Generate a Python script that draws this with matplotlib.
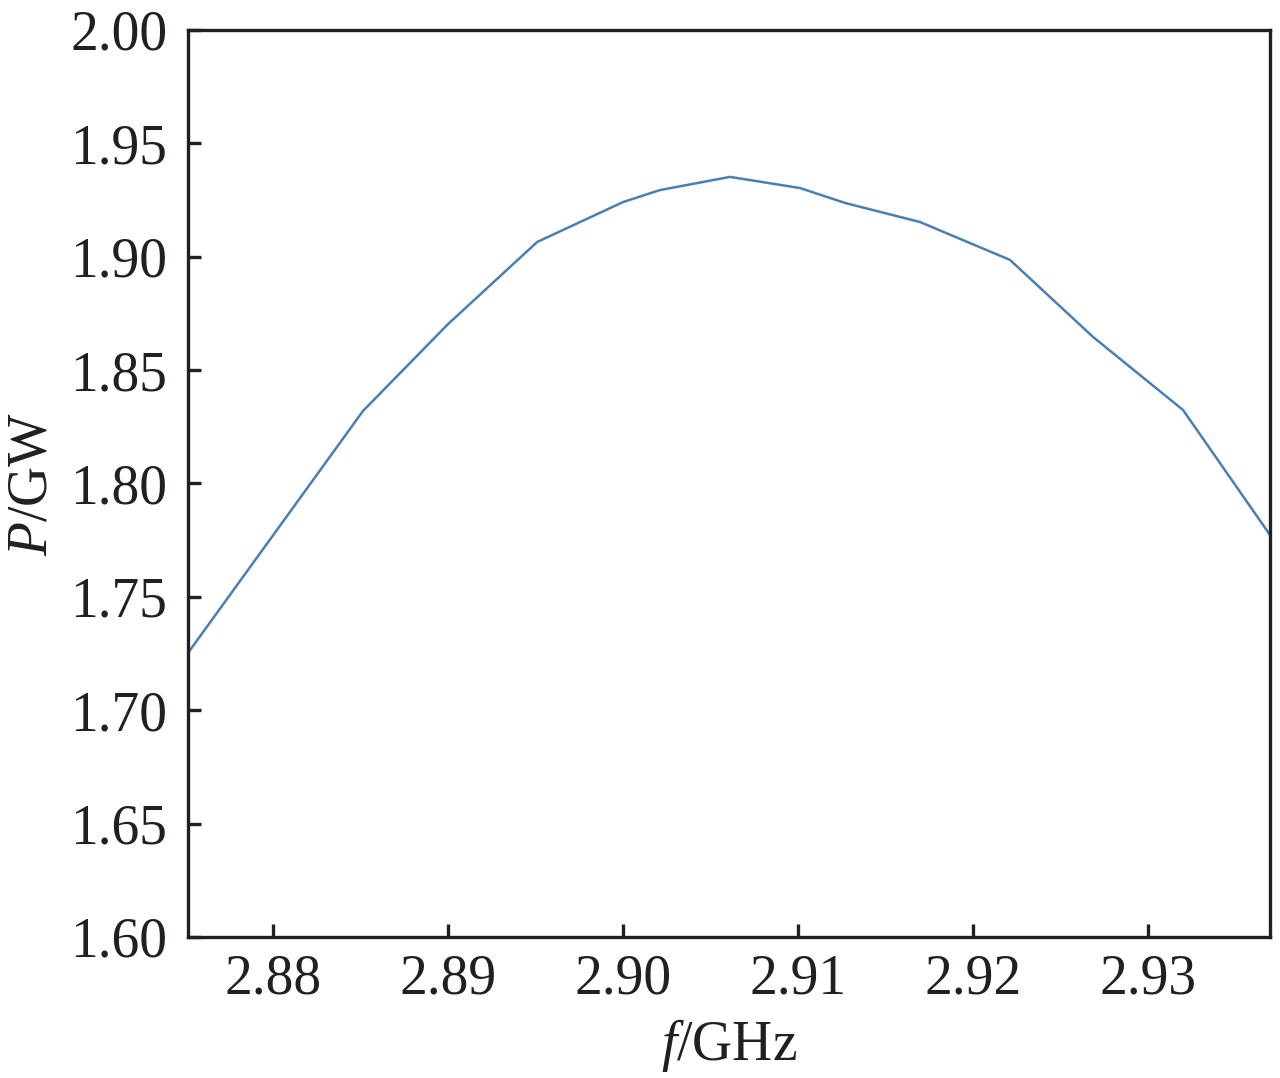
import matplotlib
matplotlib.use("Agg")
import matplotlib.pyplot as plt

freq = [2.87514, 2.88514, 2.89000, 2.89509, 2.90000, 2.90211, 2.90611, 2.91011,
        2.91269, 2.91697, 2.92211, 2.92686, 2.93200, 2.93697]
power = [1.7253, 1.8320, 1.8703, 1.9065, 1.9241, 1.9294, 1.9352, 1.9303,
         1.9237, 1.9153, 1.8986, 1.8646, 1.8324, 1.7773]
xticks = [2.88, 2.89, 2.90, 2.91, 2.92, 2.93]
yticks = [1.60, 1.65, 1.70, 1.75, 1.80, 1.85, 1.90, 1.95, 2.00]

plt.rcParams['font.family'] = ['Liberation Serif', 'DejaVu Serif']
plt.rcParams['mathtext.fontset'] = 'custom'
plt.rcParams['mathtext.rm'] = 'Liberation Serif'
plt.rcParams['mathtext.it'] = 'Liberation Serif:italic'

fig = plt.figure(figsize=(12.8, 10.78), dpi=100)
ax = fig.add_axes([0.1469, 0.1308, 0.8453, 0.8414])
ax.plot(freq, power, color='#4a7fb5', lw=1.8)
ax.set_xlim(2.87514, 2.93697)
ax.set_ylim(1.60, 2.00)
ax.set_xticks(xticks)
ax.set_xticklabels([f"{t:.2f}" for t in xticks])
ax.set_yticks(yticks)
ax.set_yticklabels([f"{t:.2f}" for t in yticks])
for s in ax.spines.values():
    s.set_linewidth(2.4)
    s.set_color('#231f20')
ax.tick_params(direction='in', length=9.5, width=2.4, labelsize=40, colors='#231f20',
               top=False, right=False)
ax.tick_params(axis='y', pad=15)
ax.tick_params(axis='x', pad=12)
ax.set_xlabel(r'$f$/GHz', fontsize=40, color='#231f20', labelpad=8)
ax.set_ylabel(r'$P$/GW', fontsize=40, color='#231f20', labelpad=8)
fig.savefig('out.png', dpi=100, facecolor='white')
